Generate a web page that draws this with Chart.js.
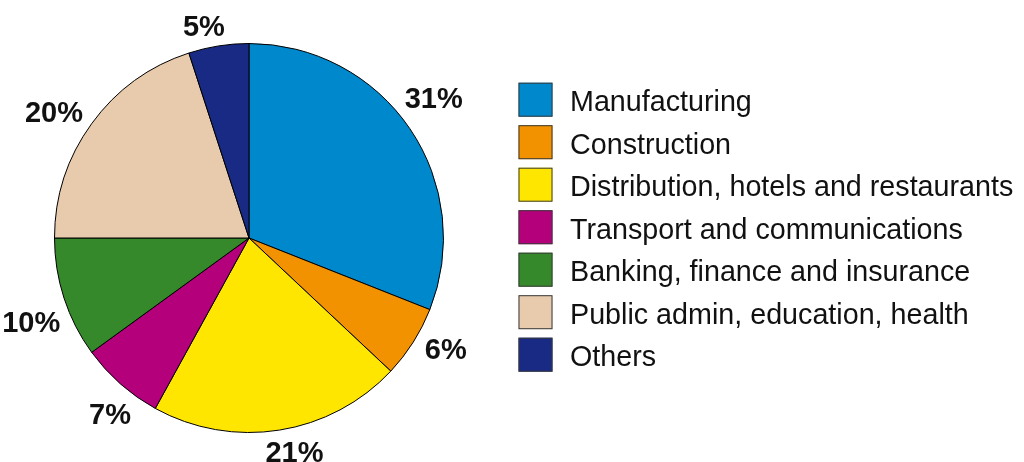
<!DOCTYPE html>
<html><head><meta charset="utf-8">
<script src="https://cdn.jsdelivr.net/npm/chart.js@4/dist/chart.umd.min.js"></script>
<style>html,body{margin:0;padding:0;background:#fff;}#wrap{position:relative;width:1024px;height:462px;}</style>
</head><body><div id="wrap"><canvas id="c" width="1024" height="462"></canvas></div>
<script>
const categories = ["Manufacturing","Construction","Distribution, hotels and restaurants","Transport and communications","Banking, finance and insurance","Public admin, education, health","Others"];
const shares = [31,6,21,7,10,20,5];
const colors = ["#0088cc","#f39200","#ffe600","#b5007c","#36892a","#e8cbad","#182a84"];

const labelPlugin = {
  id:'outLabels',
  afterDatasetsDraw(chart){
    const ctx = chart.ctx;
    const meta = chart.getDatasetMeta(0);
    ctx.save();
    const fs = 29;
    ctx.font = 'bold ' + fs + 'px "Liberation Sans", Arial, sans-serif';
    ctx.fillStyle = '#111';
    ctx.textAlign='center'; ctx.textBaseline='alphabetic';
    const rot = -3*Math.PI/180;
    const capH = 0.716*fs;
    meta.data.forEach((arc,i)=>{
      const p = arc.getProps(['x','y','startAngle','endAngle','outerRadius'],true);
      const a = (p.startAngle+p.endAngle)/2 + rot;
      const txt = shares[i]+'%';
      const w = ctx.measureText(txt).width;
      const r = p.outerRadius + 8 + Math.abs(Math.cos(a))*w/2 + Math.abs(Math.sin(a))*capH/2;
      const cx = p.x + Math.cos(a)*r, cy = p.y + Math.sin(a)*r;
      ctx.fillText(txt, cx, cy + capH/2);
    });
    // legend
    ctx.font = '28.7px "Liberation Sans", Arial, sans-serif';
    ctx.textAlign='left';
    categories.forEach((c,i)=>{
      const yc = 99.7 + i*42.5;
      ctx.fillStyle = colors[i];
      ctx.fillRect(518.5, yc-17, 34, 34);
      ctx.strokeStyle = '#3a3a3a'; ctx.lineWidth=1;
      ctx.strokeRect(519, yc-16.5, 33, 33);
      ctx.fillStyle = '#111';
      ctx.fillText(c, 570, yc + 11.5);
    });
    ctx.restore();
  }
};

new Chart(document.getElementById('c'),{
  type:'pie',
  data:{labels:categories,datasets:[{data:shares,backgroundColor:colors,borderColor:'#000',borderWidth:1}]},
  options:{
    responsive:false, animation:false,
    layout:{padding:{left:54,right:580,top:43,bottom:29}},
    plugins:{legend:{display:false},tooltip:{enabled:false}}
  },
  plugins:[labelPlugin]
});
</script></body></html>
